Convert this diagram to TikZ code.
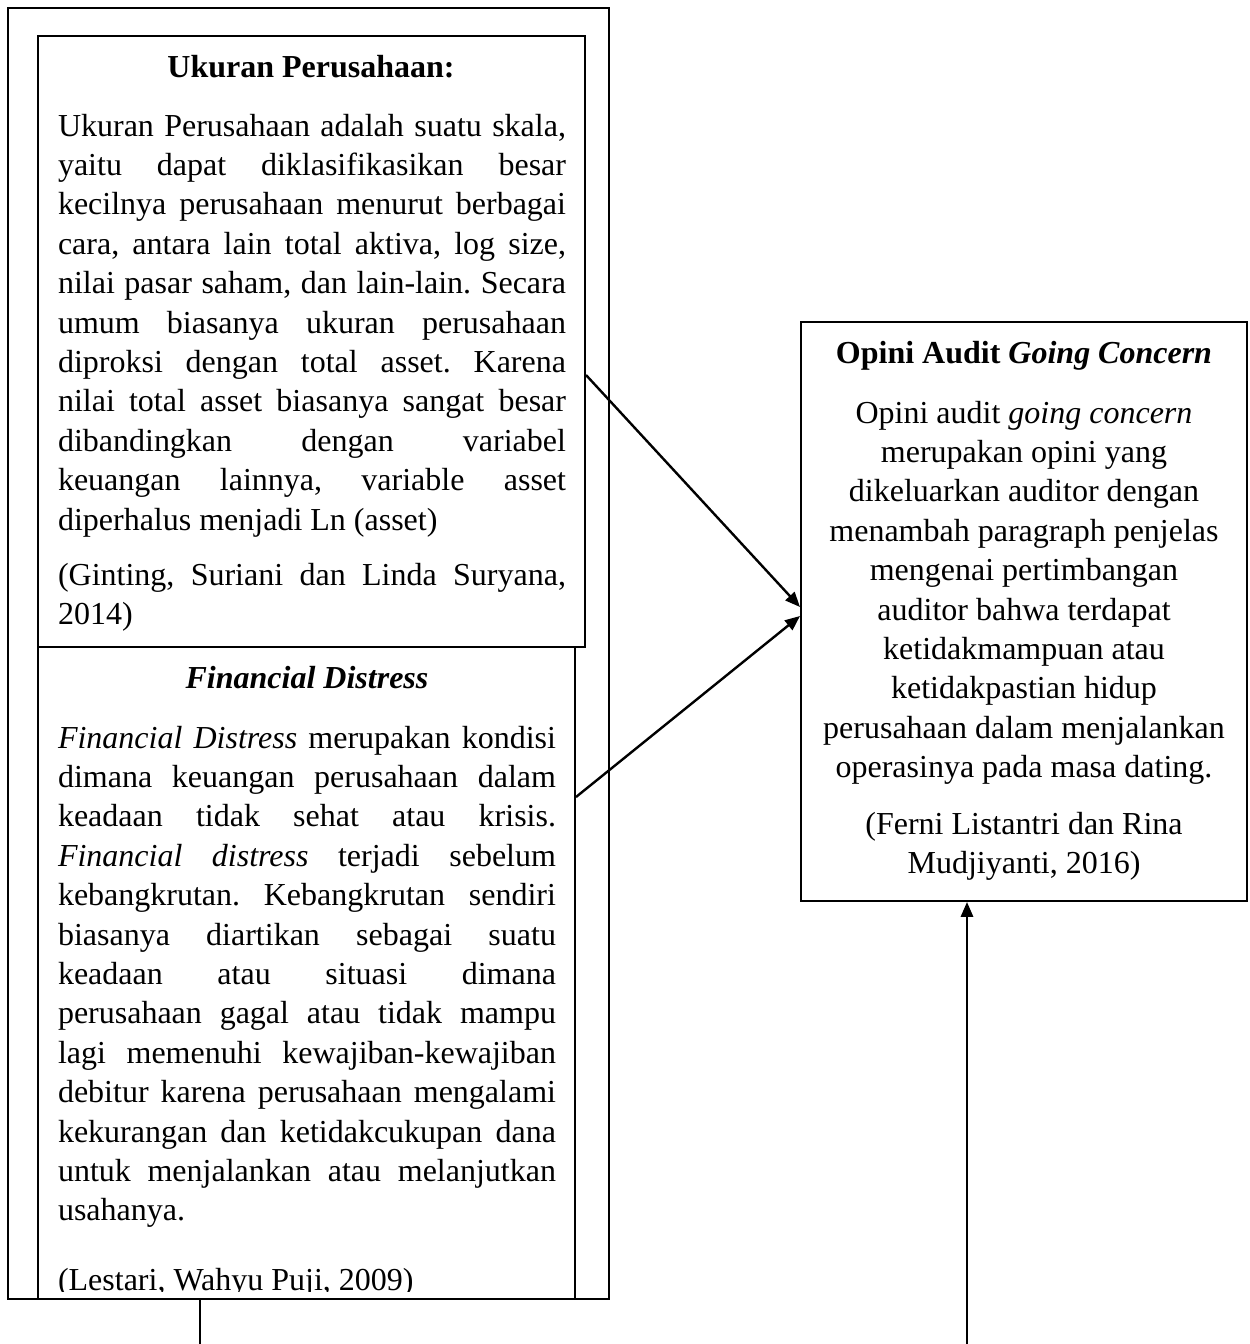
\documentclass[tikz,border=0pt]{standalone}
\usepackage{fontspec}
\setmainfont{Liberation Serif}
\usetikzlibrary{arrows.meta,fit}

\newcommand\tfont{\fontsize{12pt}{14.775pt}\selectfont}
\newcommand\jbox[2]{\parbox[t]{#1}{\tfont\frenchspacing\parindent=0pt\tolerance=10000\pretolerance=-1\hyphenpenalty=10000\exhyphenpenalty=10000 #2}}
\newcommand\cbox[2]{\parbox[t]{#1}{\tfont\centering #2\par}}
\newcommand\sline[1]{{\tfont #1}}

\begin{document}
\begin{tikzpicture}[x=0.375pt, y=-0.375pt,
  box/.style={draw, line width=0.75pt, inner sep=0pt},
  txt/.style={inner sep=0pt, outer sep=0pt},
  conn/.style={line width=0.9pt},
  arr/.style={line width=0.9pt, -{Triangle[length=5.6pt,width=4.6pt]}}]
\useasboundingbox (0,0) rectangle (1250,1344);
\fill[white] (0,0) rectangle (1250,1344);

% boxes
\node[box, fit={(8,8)(609,1299)}] (outer) {};
\node[box, fit={(38,36)(585,647)}] (uk) {};
\node[box, fit={(38,647)(575,1299)}] (fd) {};
\node[box, fit={(801,322)(1247,901)}] (op) {};

% Ukuran Perusahaan
\node[txt, anchor=base] (ukt) at (311,77) {\sline{\bfseries Ukuran Perusahaan:}};
\node[txt, anchor=base west] (ukb) at (58,136) {\jbox{190.5pt}{Ukuran Perusahaan adalah suatu skala,\linebreak
yaitu dapat diklasifikasikan besar\linebreak
kecilnya perusahaan menurut berbagai\linebreak
cara, antara lain total aktiva, log size,\linebreak
nilai pasar saham, dan lain-lain. Secara\linebreak
umum biasanya ukuran perusahaan\linebreak
diproksi dengan total asset. Karena\linebreak
nilai total asset biasanya sangat besar\linebreak
dibandingkan dengan variabel\linebreak
keuangan lainnya, variable asset\linebreak
diperhalus menjadi Ln (asset)}};
\node[txt, anchor=base west] (ukc) at (58,585) {\jbox{190.5pt}{(Ginting, Suriani dan Linda Suryana,\linebreak
2014)}};

% Financial Distress
\node[txt, anchor=base] (fdt) at (307,688) {\sline{\bfseries\itshape Financial Distress}};
\node[txt, anchor=base west] (fdb) at (58,748) {\jbox{186.75pt}{\textit{Financial Distress} merupakan kondisi\linebreak
dimana keuangan perusahaan dalam\linebreak
keadaan tidak sehat atau krisis.\linebreak
\textit{Financial distress} terjadi sebelum\linebreak
kebangkrutan. Kebangkrutan sendiri\linebreak
biasanya diartikan sebagai suatu\linebreak
keadaan atau situasi dimana\linebreak
perusahaan gagal atau tidak mampu\linebreak
lagi memenuhi kewajiban-kewajiban\linebreak
debitur karena perusahaan mengalami\linebreak
kekurangan dan ketidakcukupan dana\linebreak
untuk menjalankan atau melanjutkan\linebreak
usahanya.}};
\begin{scope}
\clip (38,647) rectangle (575,1291);
\node[txt, anchor=base west] (fdc) at (58,1290) {\sline{(Lestari, Wahyu Puji, 2009)}};
\end{scope}

% Opini Audit Going Concern
\node[txt, anchor=base] (opt) at (1024,363) {\sline{\bfseries Opini Audit \textit{Going Concern}}};
\node[txt, anchor=base] (opb) at (1024,423) {\cbox{155pt}{Opini audit \textit{going concern}\\
merupakan opini yang\\
dikeluarkan auditor dengan\\
menambah paragraph penjelas\\
mengenai pertimbangan\\
auditor bahwa terdapat\\
ketidakmampuan atau\\
ketidakpastian hidup\\
perusahaan dalam menjalankan\\
operasinya pada masa dating.}};
\node[txt, anchor=base] (opc) at (1024,834) {\cbox{155pt}{(Ferni Listantri dan Rina\\
Mudjiyanti, 2016)}};

% connectors
\coordinate (y1) at (0,375);
\coordinate (y2) at (0,797);
\coordinate (t1) at (0,607);
\coordinate (t2) at (0,616);
\coordinate (b1) at (200,1344);
\coordinate (b2) at (967,1344);
\draw[arr] (uk.east |- y1) -- (op.west |- t1);
\draw[arr] (fd.east |- y2) -- (op.west |- t2);
\draw[conn] (fd.south -| b1) -- (b1);
\draw[arr] (b2) -- (op.south -| b2);
\end{tikzpicture}
\end{document}
